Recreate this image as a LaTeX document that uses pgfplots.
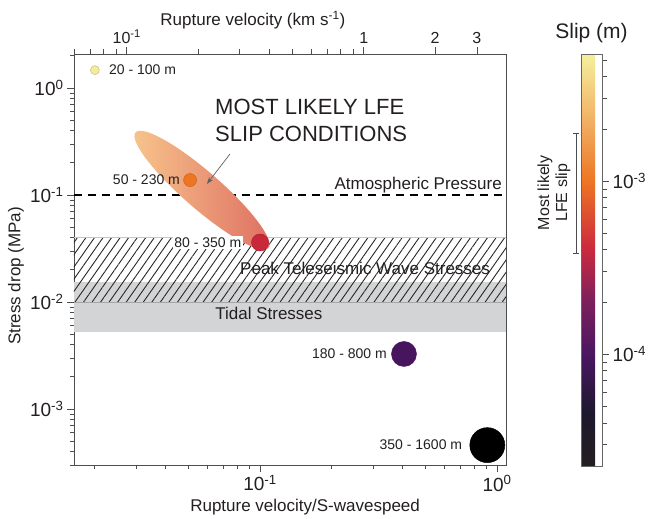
\documentclass[border=0pt]{standalone}
\usepackage{fontspec}
\setmainfont{Liberation Sans}
\usepackage{pgfplots}
\pgfplotsset{compat=1.18}
\usetikzlibrary{patterns.meta,shapes.geometric,arrows.meta}

\definecolor{txt}{HTML}{231F20}
\definecolor{axc}{HTML}{4D4D4D}
\definecolor{cyel}{HTML}{F3EC9F}
\definecolor{cyeld}{HTML}{C9C07A}
\definecolor{cora}{HTML}{EE7623}
\definecolor{corad}{HTML}{C8651E}
\definecolor{cred}{HTML}{C8283A}
\definecolor{credd}{HTML}{A82030}
\definecolor{cpur}{HTML}{47145E}
\definecolor{tidal}{HTML}{D3D4D6}
\definecolor{ellA}{HTML}{F8C68C}
\definecolor{ellB}{HTML}{DE6E62}

\pgfplotsset{
  colormap={slip}{
    rgb255(0pt)=(35,31,32)
    rgb255(13pt)=(30,24,46)
    rgb255(27pt)=(74,22,98)
    rgb255(40pt)=(125,32,92)
    rgb255(53pt)=(205,42,62)
    rgb255(69pt)=(237,117,35)
    rgb255(83pt)=(242,172,96)
    rgb255(100pt)=(245,240,158)
  }
}

\begin{document}
\begin{tikzpicture}
\begin{axis}[
  name=main,
  scale only axis, width=432pt, height=411pt,
  xmode=log, ymode=log,
  xmin=0.01641, xmax=1.091, ymin=3e-4, ymax=2.08,
  axis line style={axc, line width=0.8pt},
  tick style={axc, line width=0.8pt},
  tick align=outside,
  major tick length=7pt, minor tick length=4pt,
  xtick pos=bottom, ytick pos=left,
  xtick={0.1,1}, xticklabels={10\textsuperscript{-1},10\textsuperscript{0}},
  minor xtick={0.02,0.03,0.04,0.05,0.06,0.07,0.08,0.09,0.2,0.3,0.4,0.5,0.6,0.7,0.8,0.9},
  ytick={0.001,0.01,0.1,1},
  yticklabels={10\textsuperscript{-3},10\textsuperscript{-2},10\textsuperscript{-1},10\textsuperscript{0}},
  minor ytick={3e-4,4e-4,5e-4,6e-4,7e-4,8e-4,9e-4,2e-3,3e-3,4e-3,5e-3,6e-3,7e-3,8e-3,9e-3,0.02,0.03,0.04,0.05,0.06,0.07,0.08,0.09,0.2,0.3,0.4,0.5,0.6,0.7,0.8,0.9,2},
  ticklabel style={font=\fontsize{19}{22}\selectfont, text=txt},
  xlabel={Rupture velocity/S-wavespeed},
  ylabel={Stress drop (MPa)},
  every axis x label/.style={at={(rel axis cs:0.535,0)}, anchor=center, yshift=-42pt, font=\fontsize{17}{20}\selectfont, text=txt},
  every axis y label/.style={at={(rel axis cs:-0.134,0.46)}, anchor=center, rotate=90, font=\fontsize{17}{20}\selectfont, text=txt},
  colorbar,
  colorbar shift/.style={},
  colormap name=slip,
  point meta min=-4.647, point meta max=-2.266,
  colorbar style={
    at={(parent axis.north east)}, anchor=north west, xshift=75pt,
    scale only axis, width=21pt, height=412pt,
    axis line style={draw=gray!80!black, line width=0.6pt},
    ytick pos=right, yticklabel pos=right,
    tick align=outside, major tick length=7pt, minor tick length=5pt,
    tick style={axc, line width=0.8pt},
    ytick={-4,-3}, yticklabels={10\textsuperscript{-4},10\textsuperscript{-3}},
    minor ytick={-4.523,-4.398,-4.301,-4.222,-4.155,-4.097,-4.046,-3.699,-3.523,-3.398,-3.301,-3.222,-3.155,-3.097,-3.046,-2.699,-2.523,-2.398,-2.301},
    yticklabel style={font=\fontsize{19}{22}\selectfont, text=txt},
    title={Slip (m)},
    title style={font=\fontsize{21}{24}\selectfont, text=txt, yshift=2pt},
    extra description/.code={
      \draw[axc, line width=0.8pt] ([xshift=-8pt]rel axis cs:0,0.808) -- ([xshift=-2pt]rel axis cs:0,0.808);
      \draw[axc, line width=0.8pt] ([xshift=-8pt]rel axis cs:0,0.515) -- ([xshift=-2pt]rel axis cs:0,0.515);
      \draw[axc, line width=0.8pt] ([xshift=-5pt]rel axis cs:0,0.808) -- ([xshift=-5pt]rel axis cs:0,0.515);
      \node[rotate=90, align=center, font=\fontsize{16}{18}\selectfont, text=txt, inner sep=0pt] at ([xshift=-27pt]rel axis cs:0,0.663) {Most likely\\LFE slip};
    },
  },
]
% tidal stresses band
\addplot[draw=none, fill=tidal] coordinates {(0.01641,0.0053) (1.091,0.0053) (1.091,0.0154) (0.01641,0.0154)} -- cycle;
% peak teleseismic hatching
\addplot[draw=none, pattern={Lines[angle=55, distance=7pt, line width=0.9pt]}, pattern color=black!85] coordinates {(0.01641,0.01) (1.091,0.01) (1.091,0.04) (0.01641,0.04)} -- cycle;
\addplot[gray!45, line width=0.6pt] coordinates {(0.01641,0.04) (1.091,0.04)};
\addplot[gray!70, line width=0.6pt] coordinates {(0.01641,0.01) (1.091,0.01)};
% atmospheric pressure
\addplot[black, line width=2.2pt, dash pattern=on 8pt off 6pt] coordinates {(0.01641,0.1) (1.091,0.1)};

% most likely ellipse
\node[ellipse, minimum width=176pt, minimum height=37pt, inner sep=0pt, rotate=-41, left color=ellA, right color=ellB, draw=none] at (axis cs:0.0569,0.111) {};
\draw[-{Stealth[length=7pt,width=5pt]}, color=gray!75!black, line width=0.7pt] (axis cs:0.0747,0.242) -- (axis cs:0.0597,0.127);

% points
\addplot[only marks, mark=*, mark size=4.5pt, mark options={fill=cyel, draw=cyeld, line width=0.5pt}] coordinates {(0.0201,1.47)};
\addplot[only marks, mark=*, mark size=6.5pt, mark options={fill=cora, draw=corad, line width=0.5pt}] coordinates {(0.0507,0.138)};
\addplot[only marks, mark=*, mark size=8.5pt, mark options={fill=cred, draw=credd, line width=0.5pt}] coordinates {(0.1,0.036)};
\addplot[only marks, mark=*, mark size=12.5pt, mark options={fill=cpur, draw=cpur, line width=0.5pt}] coordinates {(0.405,0.00327)};
\addplot[only marks, mark=*, mark size=17.5pt, mark options={fill=black, draw=black, line width=0.5pt}] coordinates {(0.91,0.00046)};

% labels
\node[anchor=west, inner sep=0pt, xshift=14pt, font=\fontsize{14}{17}\selectfont, text=txt] at (axis cs:0.0201,1.47) {20 - 100 m};
\node[anchor=east, inner sep=0pt, xshift=-10pt, font=\fontsize{14}{17}\selectfont, text=txt] at (axis cs:0.0507,0.138) {50 - 230 m};
\node[anchor=east, inner sep=1.5pt, fill=white, xshift=-17pt, font=\fontsize{14}{17}\selectfont, text=txt] at (axis cs:0.1,0.036) {80 - 350 m};
\node[anchor=east, inner sep=0pt, xshift=-17pt, font=\fontsize{14}{17}\selectfont, text=txt] at (axis cs:0.405,0.00327) {180 - 800 m};
\node[anchor=east, inner sep=0pt, xshift=-25pt, font=\fontsize{14}{17}\selectfont, text=txt] at (axis cs:0.91,0.00046) {350 - 1600 m};

\node[anchor=base east, inner sep=0pt, xshift=-4pt, yshift=6pt, font=\fontsize{17}{20}\selectfont, text=txt] at (axis cs:1.091,0.1) {Atmospheric Pressure};
\node[anchor=base, inner sep=0pt, font=\fontsize{17}{20}\selectfont, text=txt] at (axis cs:0.2775,0.01827) {Peak Teleseismic Wave Stresses};
\node[anchor=base, inner sep=0pt, font=\fontsize{17}{20}\selectfont, text=txt] at (axis cs:0.109,0.00694) {Tidal Stresses};
\node[anchor=north west, align=left, inner sep=0pt, font=\fontsize{22}{27}\selectfont, text=txt] at (axis cs:0.0646,0.789) {MOST LIKELY LFE\\SLIP CONDITIONS};
\end{axis}

\begin{axis}[
  scale only axis, width=432pt, height=411pt,
  at={(main.south west)}, anchor=south west,
  xmode=log, xmin=0.0599, xmax=3.98, ymin=0, ymax=1,
  axis x line*=top, axis y line=none,
  axis line style={axc, line width=0.8pt},
  tick style={axc, line width=0.8pt},
  tick align=outside,
  major tick length=7pt, minor tick length=5pt,
  xtick={0.1,1,2,3}, xticklabels={10\textsuperscript{-1},1,2,3},
  minor xtick={0.06,0.07,0.08,0.09,0.2,0.3,0.4,0.5,0.6,0.7,0.8,0.9},
  ticklabel style={font=\fontsize{16}{19}\selectfont, text=txt},
  xlabel={Rupture velocity (km s\textsuperscript{-1})},
  every axis x label/.style={at={(rel axis cs:0.414,1)}, anchor=center, yshift=34pt, font=\fontsize{17}{20}\selectfont, text=txt},
]
\addplot[draw=none] coordinates {(1,0.5)};
\end{axis}

\pgfresetboundingbox
\useasboundingbox ([xshift=-74pt,yshift=-54pt]main.south west) rectangle ++(651pt,519pt);
\end{tikzpicture}
\end{document}
